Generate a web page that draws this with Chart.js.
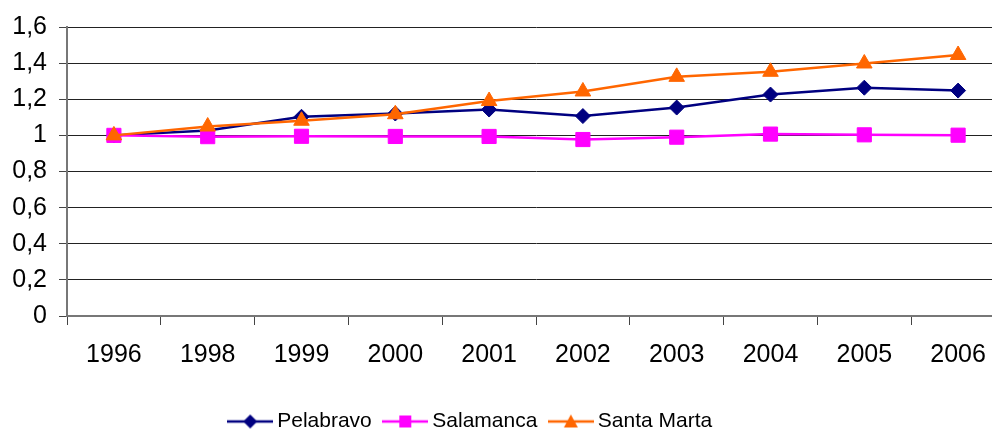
<!DOCTYPE html>
<html>
<head>
<meta charset="utf-8">
<script src="https://cdn.jsdelivr.net/npm/chart.js@4/dist/chart.umd.min.js"></script>
<style>
  html, body { margin: 0; padding: 0; background: #fff; overflow: hidden; }
  #wrap { width: 1016px; height: 430px; }
</style>
</head>
<body>
<div id="wrap"><canvas id="chart"></canvas></div>
<script>
const years = ["1996", "1998", "1999", "2000", "2001", "2002", "2003", "2004", "2005", "2006"];
const pelabravo = [1.0, 1.027, 1.103, 1.121, 1.143, 1.107, 1.154, 1.226, 1.264, 1.248];
const salamanca = [1.0, 0.993, 0.995, 0.994, 0.994, 0.977, 0.99, 1.007, 1.003, 1.001];
const santaMarta = [1.0, 1.049, 1.081, 1.117, 1.19, 1.243, 1.324, 1.352, 1.398, 1.445];
const yTicks = [0, 0.2, 0.4, 0.6, 0.8, 1, 1.2, 1.4, 1.6];

const FONT = "'Liberation Sans', Arial, sans-serif";

// legend sample: short line with the marker in the middle
function legendSample(color, shape) {
  const c = document.createElement("canvas");
  c.width = 46;
  c.height = 16;
  const g = c.getContext("2d");
  g.strokeStyle = color;
  g.fillStyle = color;
  g.lineWidth = 2.5;
  g.beginPath();
  g.moveTo(0, 8);
  g.lineTo(46, 8);
  g.stroke();
  g.beginPath();
  if (shape === "diamond") {
    g.moveTo(23, 1); g.lineTo(30, 8); g.lineTo(23, 15); g.lineTo(16, 8);
  } else if (shape === "square") {
    g.rect(17, 2, 12, 12);
  } else {
    g.moveTo(23, 1); g.lineTo(30, 14); g.lineTo(16, 14);
  }
  g.closePath();
  g.fill();
  return c;
}

const series = [
  { label: "Pelabravo", data: pelabravo, color: "#000080", style: "rectRot", radius: 7.5, shape: "diamond", order: 2 },
  { label: "Salamanca", data: salamanca, color: "#FF00FF", style: "rect", radius: 10, shape: "square", order: 1 },
  { label: "Santa Marta", data: santaMarta, color: "#FF6600", style: "triangle", radius: 9, shape: "triangle", order: 0 },
];

// move the legend a bit left and down, like the original
const shiftLegend = {
  id: "shiftLegend",
  afterLayout(chart) {
    const lg = chart.legend;
    lg.left -= 35;
    lg.right -= 35;
    lg.top += 12;
    lg.bottom += 12;
  },
};

new Chart(document.getElementById("chart"), {
  type: "line",
  data: {
    labels: years,
    datasets: series.map((s) => ({
      label: s.label,
      data: s.data,
      borderColor: s.color,
      backgroundColor: s.color,
      borderWidth: 2.5,
      pointStyle: s.style,
      pointRadius: s.radius,
      pointHoverRadius: s.radius,
      pointBorderWidth: 1,
      tension: 0,
      order: s.order,
    })),
  },
  options: {
    responsive: true,
    maintainAspectRatio: false,
    animation: false,
    layout: { padding: { top: 23, right: 0, bottom: 0, left: 0 } },
    plugins: {
      tooltip: { enabled: false },
      legend: {
        position: "bottom",
        labels: {
          color: "#000",
          font: { family: FONT, size: 21 },
          usePointStyle: true,
          pointStyleWidth: 33,
          padding: 17,
          generateLabels: () =>
            series.map((s, i) => ({
              text: s.label,
              datasetIndex: i,
              pointStyle: legendSample(s.color, s.shape),
              fillStyle: s.color,
              strokeStyle: s.color,
              lineWidth: 0,
              fontColor: "#000",
            })),
        },
      },
    },
    scales: {
      x: {
        offset: true,
        grid: {
          display: true,
          offset: true,
          drawOnChartArea: false,
          tickLength: 9,
          tickColor: "#444",
        },
        border: { color: "#777", width: 2 },
        ticks: { color: "#000", font: { family: FONT, size: 25 }, padding: 15, maxRotation: 0 },
        afterFit: (scale) => { scale.height = 66; },
      },
      y: {
        min: 0,
        max: 1.6,
        afterBuildTicks: (scale) => { scale.ticks = yTicks.map((v) => ({ value: v })); },
        grid: { color: "#222", lineWidth: 1, tickLength: 8, tickColor: "#444" },
        border: { color: "#777", width: 2 },
        ticks: {
          color: "#000",
          font: { family: FONT, size: 25 },
          padding: 12,
          callback: (v) => String(Number(v.toFixed(1))).replace(".", ","),
        },
        afterFit: (scale) => { scale.width = 67; },
      },
    },
  },
  plugins: [shiftLegend],
});
</script>
</body>
</html>
